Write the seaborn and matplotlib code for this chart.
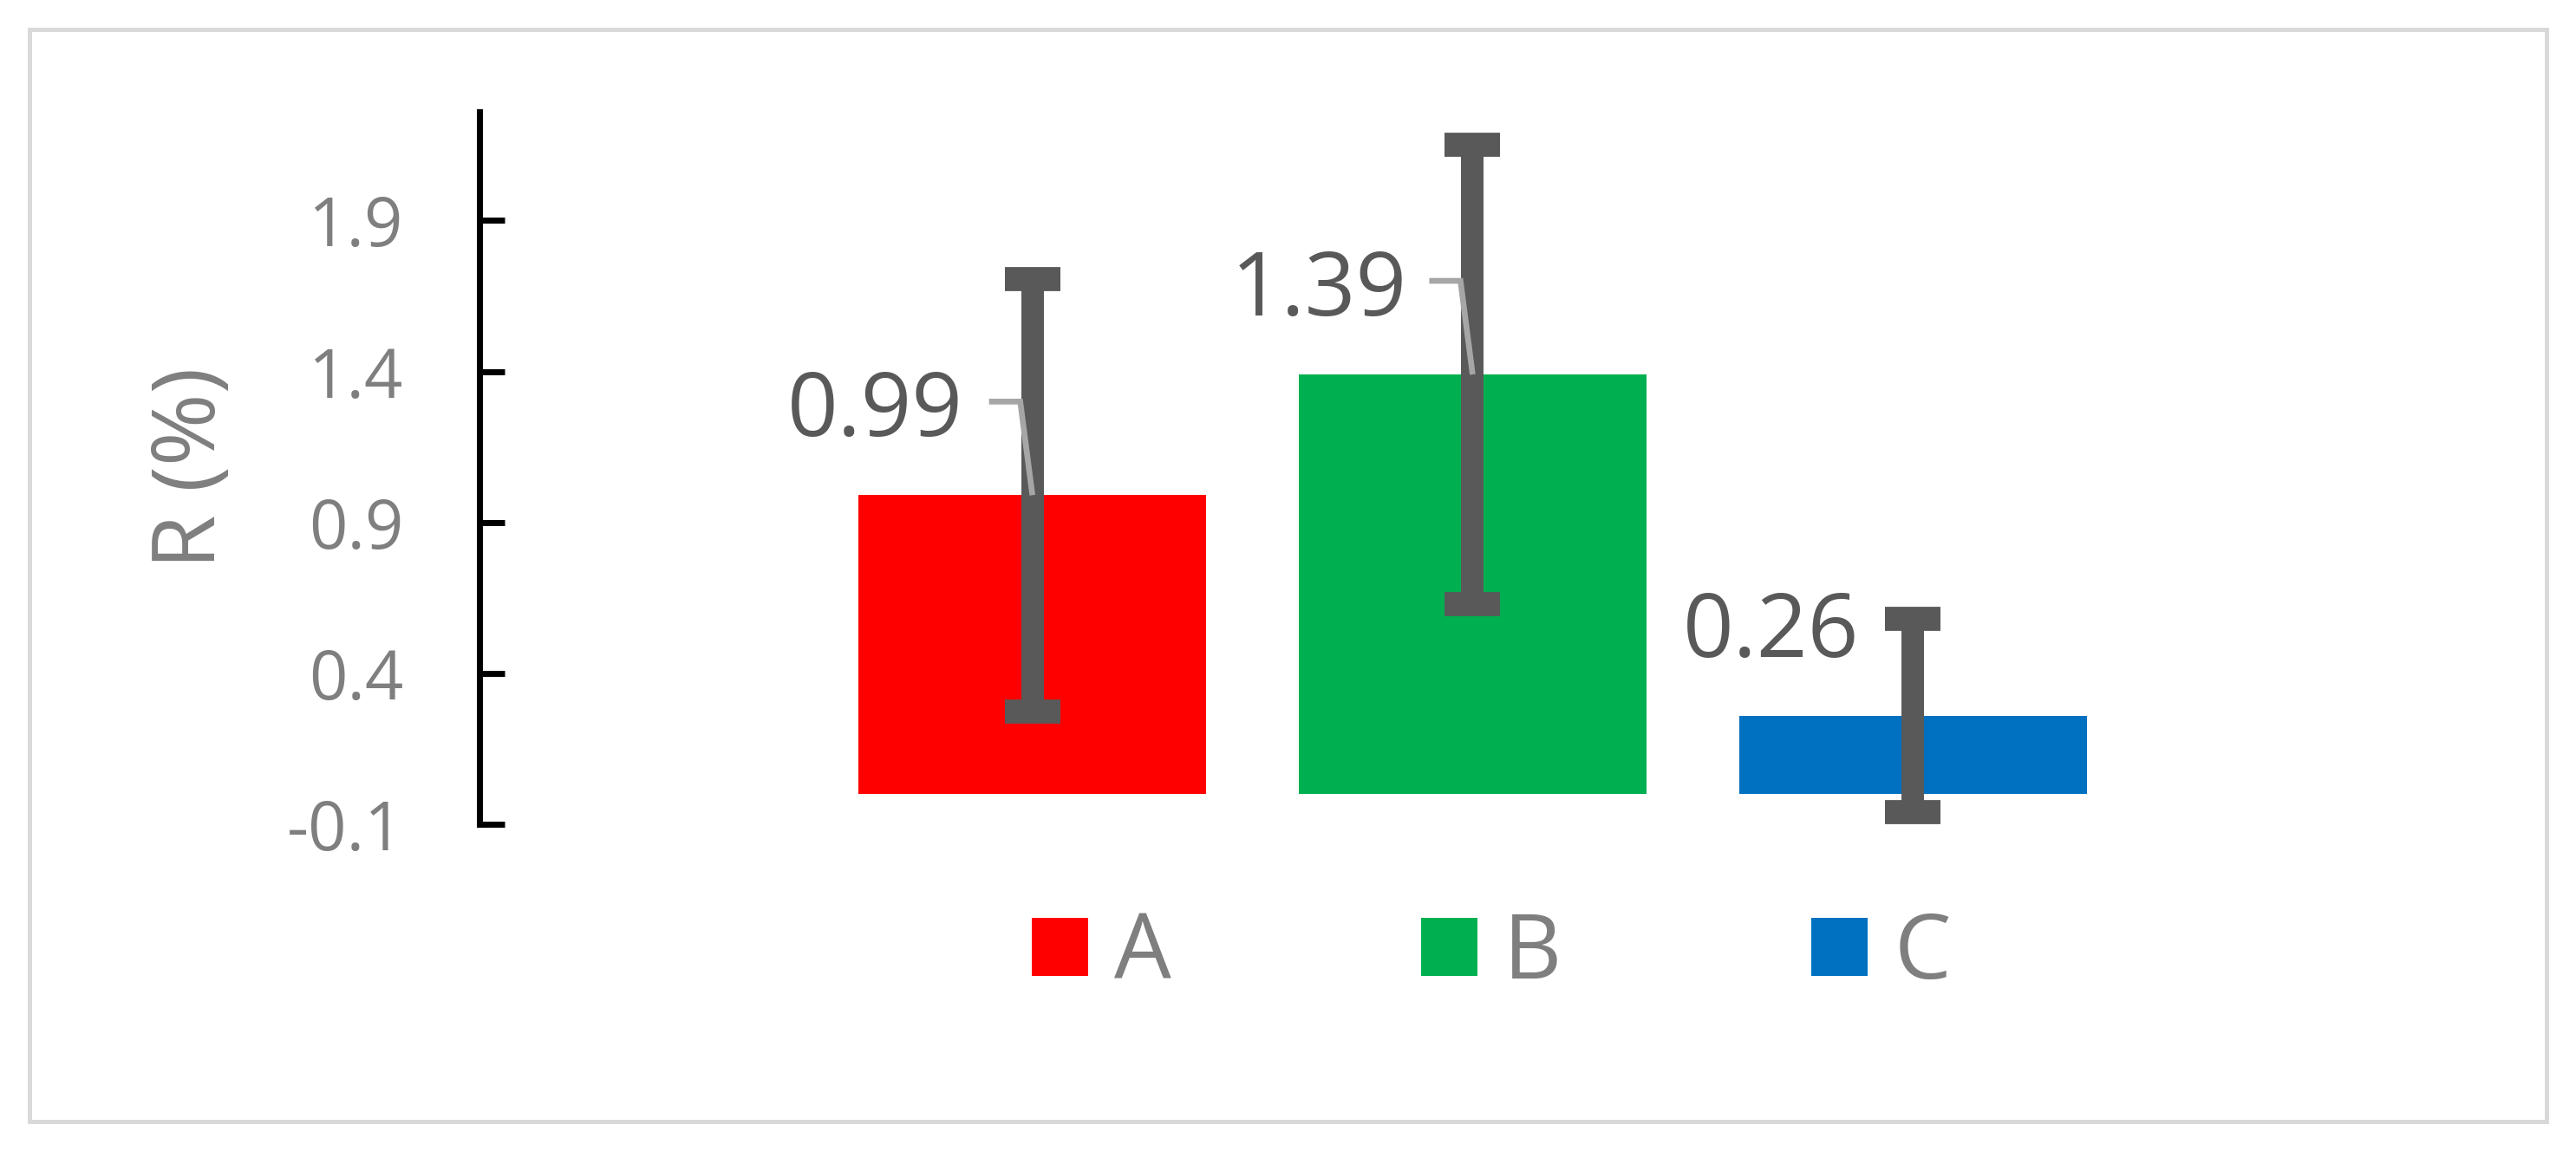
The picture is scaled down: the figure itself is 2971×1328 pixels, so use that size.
import numpy as np
import pandas as pd
import matplotlib
matplotlib.use("Agg")
import matplotlib.pyplot as plt
from matplotlib.patches import Rectangle, Patch
import seaborn as sns

# ---- data ----
categories = ["A", "B", "C"]
values = [0.99, 1.39, 0.26]
errors = [0.716, 0.761, 0.32]
value_labels = ["0.99", "1.39", "0.26"]
bar_colors = ["#FF0000", "#00B050", "#0070C0"]
y_ticks = [-0.1, 0.4, 0.9, 1.4, 1.9]
y_tick_labels = ["-0.1", "0.4", "0.9", "1.4", "1.9"]
y_label = "R (%)"

# ---- style ----
sns.set_style("white")
plt.rcParams["font.family"] = ["Open Sans", "DejaVu Sans"]

W, H = 2971, 1328
DPI = 100
fig = plt.figure(figsize=(W / DPI, H / DPI), dpi=DPI)

ax_left_px, ax_right_px = 553, 2460
ax_top_px, ax_bot_px = 129, 951
ax = fig.add_axes([ax_left_px / W, (H - ax_bot_px) / H,
                   (ax_right_px - ax_left_px) / W, (ax_bot_px - ax_top_px) / H])

df = pd.DataFrame({"cat": categories, "val": values})
sns.barplot(data=df, x="cat", y="val", hue="cat", palette=bar_colors,
            width=0.79, saturation=1, legend=False, ax=ax, errorbar=None,
            linewidth=0)

xpos = np.arange(len(categories))
eb = ax.errorbar(xpos, values, yerr=errors, fmt="none", ecolor="#595959",
                 elinewidth=18.7, capsize=22.7, capthick=20, zorder=3)
for art in list(eb.lines[1]) + list(eb.lines[2]):
    art.set_clip_on(False)

ax.set_xlim(-1.256, 2.5)
ax.set_ylim(-0.1, 2.26)

# spines / ticks
for s in ["top", "right", "bottom"]:
    ax.spines[s].set_visible(False)
ax.spines["left"].set_color("black")
ax.spines["left"].set_linewidth(5)
ax.set_yticks(y_ticks)
ax.set_yticklabels(y_tick_labels)
ax.tick_params(axis="y", direction="in", length=21, width=5, color="black",
               labelcolor="#7F7F7F", labelsize=56, pad=63, left=True)
ax.tick_params(axis="x", bottom=False, labelbottom=False)
ax.set_xlabel("")
ax.set_ylabel("")
ax.grid(False)

# y label
fig.text(222 / W, 1 - 540 / H, y_label, rotation=90, ha="center", va="center",
         fontsize=73, color="#7F7F7F")

# data labels with leader lines (offsets in pixels from bar top centre)
label_dx = [-80, -76, -62]
label_dy = 68
leader = [True, True, False]
for i, (v, lab) in enumerate(zip(values, value_labels)):
    ax.annotate(lab, xy=(i, v), xytext=(label_dx[i], label_dy),
                textcoords="offset pixels", ha="right", va="baseline",
                fontsize=74, color="#595959", zorder=5)
    if leader[i]:
        p = ax.transData.transform((i, v))
        pts = np.array([p + (-50, 108), p + (-14, 108), p])
        d = ax.transData.inverted().transform(pts)
        ax.plot(d[:, 0], d[:, 1], color="#A6A6A6", lw=4.8,
                solid_joinstyle="miter", solid_capstyle="butt", zorder=4)

# legend
handles = [Patch(facecolor=c, edgecolor="none", label=k)
           for c, k in zip(bar_colors, categories)]
fig.legend(handles=handles, loc="center", bbox_to_anchor=(1720 / W, 1 - 1102 / H),
           ncol=3, frameon=False, fontsize=75, labelcolor="#7F7F7F",
           handlelength=0.625, handleheight=0.62, handletextpad=0.29,
           columnspacing=2.76, borderpad=0, borderaxespad=0)

# outer border
fig.add_artist(Rectangle((34 / W, 34 / H), (2937 - 34) / W, (1294 - 34) / H,
                         transform=fig.transFigure, fill=False,
                         edgecolor="#D9D9D9", lw=3.6))

fig.savefig("out.png", dpi=DPI)
